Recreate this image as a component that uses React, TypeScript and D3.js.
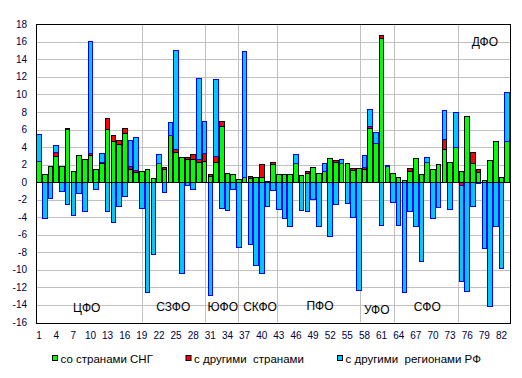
import React from 'react';
import * as d3 from 'd3';

// Region numbers 1..83
const categories: number[] = Array.from({ length: 83 }, (_, i) => i + 1);

// Series: trade with CIS countries (green)
const cis: number[] = [
  2.4, 0.9, 1.8, 2.95, 1.8, 5.95, 1.2, 3.07, 2.6, 3.07,
  1.45, 2.15, 5.95, 4.68, 4.3, 5.57, 1.48, 1.15, 1.27, 1.48,
  0.45, 2.08, 1.48, 5.27, 3.37, 2.84, 2.6, 2.6, 2.27, 2.4,
  0.68, 2.27, 6.36, 1.0, 0.9, 0.3, 0.57, 0.45, 0.57, 0.57,
  0.08, 2.05, 0.9, 0.9, 0.9, 2.16, 0.8, 1.0, 1.7, 1.0,
  1.25, 2.73, 2.27, 2.16, 2.16, 1.36, 1.6, 1.48, 6.1, 4.43,
  16.4, 1.75, 1.0, 0.5, 0.23, 1.25, 2.73, 0.9, 2.27, 1.48,
  2.05, 3.67, 2.27, 4.0, 1.25, 7.5, 2.16, 1.06, 0.23, 2.5,
  4.66, 0.57, 4.66,
];

// Series: trade with other countries (red)
const other: number[] = [
  0, 0, 0, 0.38, 0, 0.15, 0, 0, 0, 0.2,
  0, 0.12, 1.35, 0.6, 0.4, 0.6, 0.25, 0.13, 0, 0,
  0, 0, 0.22, 0, 0.33, 0, 0.24, 0.6, 0.3, 0.9,
  0.22, 0.68, 0.57, 0, 0, 0, 0, 0.23, 0, 1.48,
  0, 0.15, 0, 0, 0, 0, 0, 0.25, 0, 0,
  0, 0, 0.23, 0, 0, 0.24, 0, 0.22, 0.2, 0,
  0.3, 0, 0, 0, 0, 0.35, 0, 0, 0, 0,
  0, 1.23, 0, 0, -0.4, 0, 1.24, 0.44, 0, 0,
  0, 0, 0,
];

// Series: trade with other regions of RF (blue)
const regionsRF: number[] = [
  3.05, -4.1, -1.82, 0.87, -1.02, -2.5, -3.75, -1.25, -3.3, 12.73,
  -0.87, 1.03, -3.3, -4.55, -2.73, -1.6, 3.02, 3.8, -2.95, -12.6,
  -8.2, 1.12, -1.14, 1.53, 11.3, -10.45, -0.42, -0.8, 9.3, 3.63,
  -12.95, 8.75, -2.95, -3.18, -0.87, -7.5, 14.33, -7.05, -9.55, -10.45,
  -2.73, -0.98, -3.07, -4.1, -5.0, 1.04, -3.18, -3.4, -1.93, -5.1,
  0.91, -6.14, -2.6, 0.44, -2.4, -4.0, -12.4, 1.37, 2.0, 1.25,
  -4.9, 0.18, -2.27, -4.9, -12.6, -3.4, -5.0, -9.1, 0.57, -4.1,
  -2.84, 3.3, -3.07, 3.95, -10.96, -12.5, -2.73, -0.1, -7.6, -14.2,
  -5.0, -9.9, 5.54,
];

const xTickLabels: number[] = [1, 4, 7, 10, 13, 16, 19, 22, 25, 28, 31, 34, 37, 40, 43, 46, 49, 52, 55, 58, 61, 64, 67, 70, 73, 76, 79, 82];
const yTickLabels: number[] = [-16, -14, -12, -10, -8, -6, -4, -2, 0, 2, 4, 6, 8, 10, 12, 14, 16, 18];

const seriesKeys = ['cis', 'other', 'reg'];
const seriesNames = ['со странами СНГ', 'с другими  странами', 'с другими  регионами РФ'];
const seriesFill = ['#00ff00', '#ff0000', '#00c8ff'];
const seriesStroke = ['#000000', '#000000', '#0000ff'];

// Federal districts
const districtNames = ['ЦФО', 'СЗФО', 'ЮФО', 'СКФО', 'ПФО', 'УФО', 'СФО', 'ДФО'];
const districtLabelAt: [number, number][] = [
  [9.33, -14.3], [24.5, -14.2], [33.16, -14.2], [39.7, -14.2],
  [50.2, -14.1], [60.15, -14.6], [69.0, -14.2], [79.1, 16.0],
];
const districtSeparators: number[] = [19.07, 30.11, 35.9, 42.76, 57.27, 63.21, 74.44];

const W = 522;
const H = 378;
const L = 36.3;
const R = 510;
const T = 24.3;
const B = 322.5;
const FONT = '"Liberation Sans", Arial, sans-serif';

export default function App() {
  const table = categories.map((c, i) => ({
    cat: c,
    cis: cis[i],
    other: other[i],
    reg: regionsRF[i],
  }));
  const stacked = d3
    .stack<any>()
    .keys(seriesKeys)
    .offset(d3.stackOffsetDiverging)(table);

  const y = d3.scaleLinear().domain([-16, 18]).range([B, T]);
  const xb = d3
    .scaleBand<number>()
    .domain(categories)
    .range([L, R])
    .paddingInner(0.2)
    .paddingOuter(0.1);
  const xc = d3.scaleLinear().domain([0.5, 83.5]).range([L, R]);

  const legendX = [52, 185.5, 337];

  return (
    <svg
      width={W}
      height={H}
      style={{ position: 'absolute', left: 0, top: 0, background: '#fff' }}
      fontFamily={FONT}
    >
      <rect x={0} y={0} width={W} height={H} fill="#fff" />
      {/* horizontal gridlines */}
      {yTickLabels
        .filter((v) => v !== 0 && v !== 18 && v !== -16)
        .map((v) => (
          <line
            key={'h' + v}
            x1={L}
            x2={R}
            y1={Math.round(y(v)) + 0.5}
            y2={Math.round(y(v)) + 0.5}
            stroke="#c0c0c0"
            strokeWidth={1}
          />
        ))}
      {/* vertical district separators */}
      {districtSeparators.map((s, i) => (
        <line
          key={'v' + i}
          x1={Math.round(xc(s)) + 0.5}
          x2={Math.round(xc(s)) + 0.5}
          y1={T}
          y2={B}
          stroke="#c0c0c0"
          strokeWidth={1}
        />
      ))}
      {/* bars */}
      {stacked.map((s, si) => (
        <g key={s.key} fill={seriesFill[si]} stroke={seriesStroke[si]} strokeWidth={1}>
          {s.map((d, di) => {
            if (d[0] === d[1]) return null;
            const top = y(Math.max(d[0], d[1]));
            const bot = y(Math.min(d[0], d[1]));
            const x0 = xb(d.data.cat) as number;
            return (
              <rect
                key={di}
                x={x0}
                y={top}
                width={xb.bandwidth()}
                height={Math.max(bot - top, 0.5)}
                shapeRendering="crispEdges"
              />
            );
          })}
        </g>
      ))}
      {/* zero line */}
      <line x1={L} x2={R} y1={Math.round(y(0)) + 0.5} y2={Math.round(y(0)) + 0.5} stroke="#000" strokeWidth={1} />
      {/* plot border */}
      <rect
        x={Math.round(L) + 0.5}
        y={Math.round(T) + 0.5}
        width={Math.round(R) - Math.round(L)}
        height={Math.round(B) - Math.round(T)}
        fill="none"
        stroke="#000"
        strokeWidth={1}
      />
      {/* y tick labels */}
      {yTickLabels.map((v) => (
        <text
          key={'yl' + v}
          x={27}
          y={y(v)}
          textAnchor="end"
          dominantBaseline="central"
          fontSize={10}
          fill="#000040"
        >
          {v}
        </text>
      ))}
      {/* x tick labels */}
      {xTickLabels.map((c) => (
        <text
          key={'xl' + c}
          x={(xb(c) as number) + xb.bandwidth() / 2}
          y={335.5}
          textAnchor="middle"
          dominantBaseline="central"
          fontSize={10}
          fill="#000040"
        >
          {c}
        </text>
      ))}
      {/* district labels */}
      {districtNames.map((n, i) => (
        <text
          key={'d' + i}
          x={xc(districtLabelAt[i][0])}
          y={y(districtLabelAt[i][1])}
          textAnchor="middle"
          dominantBaseline="central"
          fontSize={12}
          fill="#000"
        >
          {n}
        </text>
      ))}
      {/* legend */}
      {seriesNames.map((n, i) => (
        <g key={'lg' + i}>
          <rect
            x={legendX[i] + 0.5}
            y={355.5}
            width={5}
            height={5}
            fill={seriesFill[i]}
            stroke="#000"
            strokeWidth={1}
          />
          <text
            x={legendX[i] + 8.5}
            y={358.5}
            dominantBaseline="central"
            fontSize={11.5}
            fill="#000"
            style={{ whiteSpace: 'pre' }}
          >
            {n}
          </text>
        </g>
      ))}
    </svg>
  );
}
